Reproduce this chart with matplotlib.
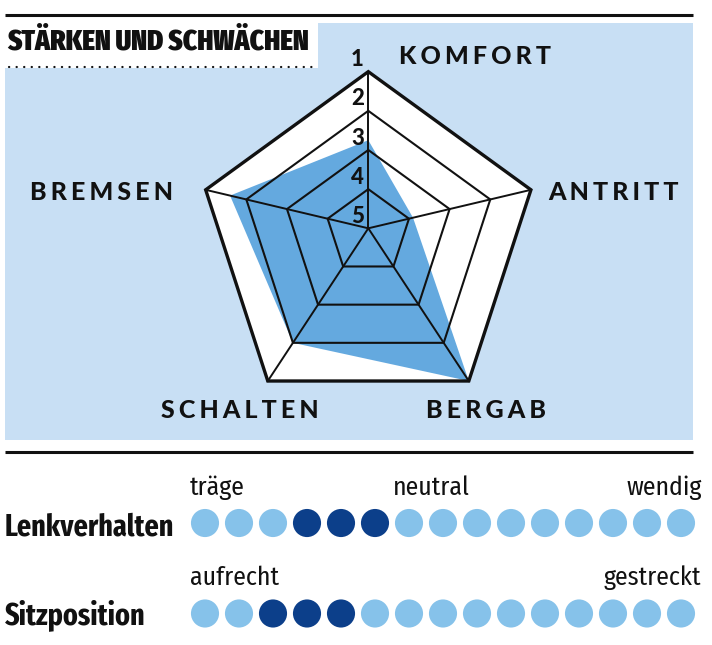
import numpy as np
import matplotlib.pyplot as plt
from matplotlib.patches import Rectangle, Polygon

W, H = 712, 645

# radar: school grades, 1 = best (outer ring), 5 = centre
spokes = ['KOMFORT', 'ANTRITT', 'BERGAB', 'SCHALTEN', 'BREMSEN']
scores = [2.75, 3.9, 1.0, 2.0, 1.6]
grades = [1, 2, 3, 4, 5]

# dot scales below
rows = ['Lenkverhalten', 'Sitzposition']
n_dots = 15
marked = [[3, 4, 5], [2, 3, 4]]
left_words = ['träge', 'aufrecht']
mid_words = ['neutral', None]
right_words = ['wendig', 'gestreckt']

PANEL = '#c8dff4'
FILL = '#64a9df'
LIGHT = '#86c2ea'
DARK = '#0c3f8a'
INK = '#111111'
XCOND = ['Fira Sans Extra Condensed', 'DejaVu Sans']
COND = ['Fira Sans Condensed', 'DejaVu Sans']
HEAVY = ['Lato', 'DejaVu Sans']

fig = plt.figure(figsize=(W / 100, H / 100), dpi=100)

# page frame in pixel units
bg = fig.add_axes([0, 0, 1, 1])
bg.set_xlim(0, W)
bg.set_ylim(H, 0)
bg.axis('off')

bg.add_patch(Rectangle((5, 23), 688, 417, color=PANEL, lw=0))
bg.add_patch(Rectangle((5, 23), 313, 45, color='white', lw=0))
bg.plot([5, 693], [15, 15], color=INK, lw=2.2, solid_capstyle='butt')
bg.plot([5, 693], [452, 452], color=INK, lw=2.2, solid_capstyle='butt')
bg.plot([9, 316], [67, 67], color=INK, lw=1.6, ls=(0, (0.1, 3.3)),
        dash_capstyle='round')
bg.text(7, 50, 'STÄRKEN UND SCHWÄCHEN', family=XCOND, weight='black',
        fontsize=21, color=INK, ha='left', va='baseline')

label_pos = [(475, 57), (613, 193), (486, 410), (240, 410), (101, 193)]
for name, (x, y) in zip(spokes, label_pos):
    bg.text(x, y, '\u2006'.join(name), family=HEAVY, weight='black',
            fontsize=18, color=INK, ha='center', va='center')

# radar
cx, cy, R, half = 368.3, 228.3, 171, 200
rax = fig.add_axes([(cx - half) / W, (H - cy - half) / H, 2 * half / W, 2 * half / H])
rax.set_xlim(-half / R, half / R)
rax.set_ylim(-half / R, half / R)
rax.axis('off')

theta = np.deg2rad(90 - 72 * np.arange(len(spokes)))
dirs = np.column_stack([np.cos(theta), np.sin(theta) - 0.084])


def ring(v):
    return dirs * (5 - np.asarray(v, dtype=float))[..., None] / 4


rax.add_patch(Polygon(ring(np.ones(5)), closed=True, fc='white', ec='none'))
rax.add_patch(Polygon(ring(scores), closed=True, fc=FILL, ec='none'))
for g in grades[:-1]:
    rax.add_patch(Polygon(ring(np.full(5, g)), closed=True, fill=False, ec=INK,
                          lw=2.4 if g == 1 else 1.5, joinstyle='miter'))
for d in dirs:
    rax.plot([0, d[0]], [0, d[1]], color=INK, lw=1.4)
for g in grades:
    top = ring(np.full(5, g))[0]
    rax.text(-0.025, top[1] + 0.07, str(g), family=HEAVY, weight='black',
             fontsize=16, color=INK, ha='right', va='center')

# dot scales
dax = fig.add_axes([188 / W, (H - 640) / H, 510 / W, 170 / H])
dax.set_xlim(-0.5, n_dots - 0.5)
dax.set_ylim(1.293, -0.586)
dax.axis('off')

idx = np.arange(n_dots)
for r, name in enumerate(rows):
    cols = [DARK if i in marked[r] else LIGHT for i in idx]
    dax.scatter(idx, np.full(n_dots, r), s=410, c=cols, lw=0)
    bg.text(5, 535 + r * 89, name, family=XCOND, weight='bold', fontsize=22,
            color=INK, ha='left', va='baseline')
    wy = r - 0.31
    dax.text(-0.45, wy, left_words[r], family=COND, fontsize=18.5, color=INK,
             ha='left', va='baseline')
    if mid_words[r]:
        dax.text(6.65, wy, mid_words[r], family=COND, fontsize=18.5, color=INK,
                 ha='center', va='baseline')
    dax.text(14.6, wy, right_words[r], family=COND, fontsize=18.5, color=INK,
             ha='right', va='baseline')

fig.savefig('out.png', dpi=100)
